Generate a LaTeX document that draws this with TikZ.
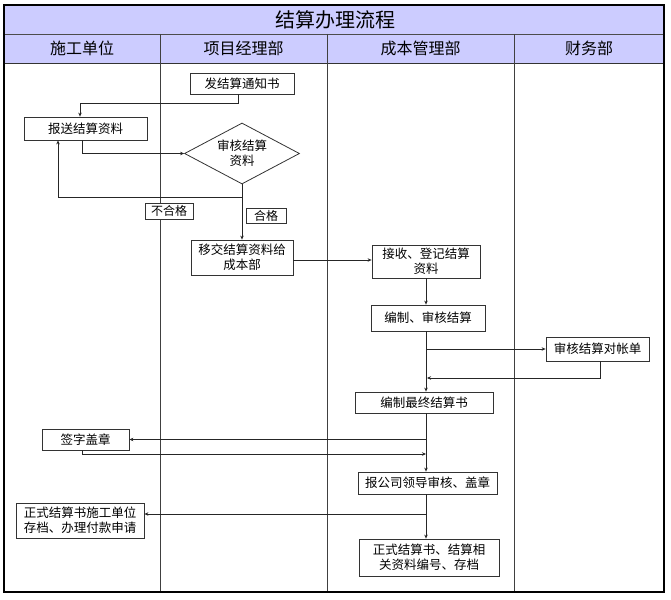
\documentclass[tikz,border=0pt]{standalone}
\usepackage{fontspec}
\newfontfamily\cjk{Noto Sans CJK SC}
\usetikzlibrary{shapes.geometric,arrows.meta}
\definecolor{headfill}{RGB}{204,204,255}
\tikzstyle{every node}+=[inner sep=1pt,font=\cjk\fontsize{12.5}{15}\selectfont]
\tikzstyle{box}=[rectangle,draw=black!80,fill=white,align=center,line width=0.8pt]
\tikzstyle{tag}=[rectangle,draw=black!80,fill=white,inner sep=0.5pt,line width=0.8pt,font=\cjk\fontsize{12}{13}\selectfont]
\tikzstyle{head}=[font=\cjk\fontsize{16}{18}\selectfont]
\tikzstyle{link}=[draw=black!85,line width=0.8pt,-{Stealth[length=4pt,width=3.5pt]}]

\begin{document}
\begin{tikzpicture}[x=1pt,y=-1pt]

\fill[white] (0,0) rectangle (671,599);
\useasboundingbox (0,0) rectangle (671,599);

% lanes
\fill[headfill] (4,5) rectangle (664,63);
\draw[black!70,line width=0.8pt] (4,34) -- (664,34);
\draw[black!80,line width=0.8pt] (4,63) -- (664,63);
\foreach \x in {160,327,514}
  \draw[black!75,line width=0.8pt] (\x,34) -- (\x,592);
\draw[line width=1.5pt] (4,5) rectangle (664,592);

\node[font=\cjk\fontsize{20}{22}\selectfont] (title) at (335,19.5) {结算办理流程};
\node[head] (h1) at (82,48.5) {施工单位};
\node[head] (h2) at (243.5,48.5) {项目经理部};
\node[head] (h3) at (420.5,48.5) {成本管理部};
\node[head] (h4) at (589,48.5) {财务部};

% steps
\node[box,minimum width=104pt,minimum height=21pt] (notice) at (242,83.5) {发结算通知书};
\node[box,minimum width=123pt,minimum height=23pt] (submit) at (85.5,128.5) {报送结算资料};
\node[diamond,draw=black!80,fill=white,line width=0.8pt,aspect=1.9,inner sep=0pt,
      minimum width=115pt,minimum height=61pt,align=center] (check) at (242,153.5) {审核结算\\资料};
\node[box,minimum width=102pt,minimum height=35pt] (transfer) at (242,257.5) {移交结算资料给\\成本部};
\node[box,minimum width=108pt,minimum height=33pt] (receive) at (426,261.5) {接收、登记结算\\资料};
\node[box,minimum width=114pt,minimum height=26pt] (compile) at (428,318) {编制、审核结算};
\node[box,minimum width=103pt,minimum height=24pt] (reconcile) at (597.5,349) {审核结算对帐单};
\node[box,minimum width=138pt,minimum height=21pt] (final) at (424,402.5) {编制最终结算书};
\node[box,minimum width=87pt,minimum height=21pt] (sign) at (85.5,439.5) {签字盖章};
\node[box,minimum width=139pt,minimum height=22pt] (report) at (427.5,483) {报公司领导审核、盖章};
\node[box,minimum width=128pt,minimum height=35pt] (archive1) at (80,520.5) {正式结算书施工单位\\存档、办理付款申请};
\node[box,minimum width=140pt,minimum height=37pt] (archive2) at (429,557.5) {正式结算书、结算相\\关资料编号、存档};

\node[tag,minimum width=48pt,minimum height=16pt] (ng) at (169,211) {不合格};
\node[tag,minimum width=40pt,minimum height=15pt] (ok) at (266,215.5) {合格};

\coordinate (spine) at (426,0);
\coordinate (fail) at (242,197);
\coordinate (merge) at (427,378);
\coordinate (join) at (426,454);
\coordinate (out) at (426,514);

\draw[link] ([xshift=-4pt]notice.south) -- ++(0,9) -| ([xshift=-5.5pt]submit.north);
\draw[link] ([xshift=-3.5pt]submit.south) |- (check.west);
\draw[link] (check.south) -- (transfer.north);
\draw[link] (fail) -| ([xshift=-27.5pt]submit.south);
\draw[link] ([yshift=-2.5pt]transfer.east) -- ([yshift=-2.5pt]transfer.east -| receive.west);
\draw[link] (receive.south -| spine) -- (compile.north -| spine);
\draw[link] (compile.south -| spine) -- (final.north -| spine);
\draw[link] (spine |- reconcile.west) -- (reconcile.west);
\draw[link] ([xshift=2.5pt]reconcile.south) |- (merge);
\draw[link] (final.south -| spine) -- (report.north -| spine);
\draw[link] (spine |- sign.east) -- (sign.east);
\draw[link] ([xshift=-3.5pt]sign.south) |- (join);
\draw[link] (report.south -| spine) -- (archive2.north -| spine);
\draw[link] (out) -- (out -| archive1.east);
\end{tikzpicture}
\end{document}
